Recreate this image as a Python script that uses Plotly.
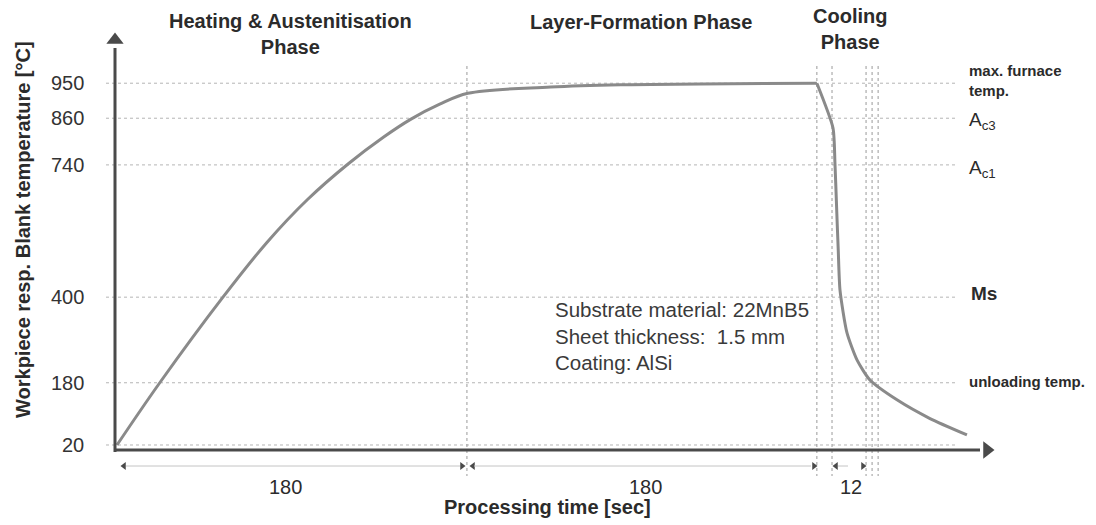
import plotly.graph_objects as go

# ---------------- data ----------------
heat_time_s = [0, 22, 54.5, 77, 98, 119, 137, 151, 166, 180.5, 223, 259, 300, 360]
heat_temp_c = [20, 180, 400, 540, 651, 743, 811, 857, 896, 924, 940, 946, 948, 950]
cool_time_s = [360, 368.3, 369.3, 370.2, 371.0, 371.9, 375.5, 380.7, 387.3, 401.2, 418.2, 437.2]
cool_temp_c = [950, 835, 745, 624, 521, 418, 308, 238, 187, 136, 88, 46]

ref_temps = [950, 860, 740, 400, 180, 20]
ref_labels = ["950", "860", "740", "400", "180", "20"]

phase_bounds = [0, 180, 360]          # s
cooling_marks = [367.8, 385.3, 388.4, 391.5]
phase_durations = ["180", "180", "12"]
phase_titles = ["<b>Heating & Austenitisation<br>Phase</b>", "<b>Layer-Formation Phase</b>",
                "<b>Cooling<br>Phase</b>"]

# ---------------- geometry ----------------
W, H = 1096, 525
L, R, T, B = 100, 96, 20, 45
XR = [-8.745, 454.2]
YR = [-70, 1112.5]
pw, ph = W - L - R, H - T - B


def t_of(px):
    return XR[0] + (px - L) / pw * (XR[1] - XR[0])


def v_of(py):
    return YR[1] - (py - T) / ph * (YR[1] - YR[0])


def xp(px):
    return (px - L) / pw


def yp(py):
    return (H - B - py) / ph


CURVE = "#8a8a8a"
AX = "#4a4a4a"
GRID = "#b5b5b5"
TXT = "#2b2b2b"
FONT = "Liberation Sans, Arial, sans-serif"

fig = go.Figure()

# curve
fig.add_trace(go.Scatter(x=heat_time_s, y=heat_temp_c, mode="lines",
                         line=dict(color=CURVE, width=3, shape="spline", smoothing=1.0),
                         cliponaxis=False, hoverinfo="skip", showlegend=False))
fig.add_trace(go.Scatter(x=cool_time_s, y=cool_temp_c, mode="lines",
                         line=dict(color=CURVE, width=3, shape="spline", smoothing=0.6),
                         cliponaxis=False, hoverinfo="skip", showlegend=False))

shapes = []
# horizontal reference lines
for v in ref_temps:
    shapes.append(dict(type="line", xref="x", yref="y", x0=t_of(106), x1=t_of(955), y0=v, y1=v,
                       line=dict(color=GRID, width=1, dash="dot"), layer="below"))
# vertical phase boundaries
for t in phase_bounds[1:] + cooling_marks:
    shapes.append(dict(type="line", xref="x", yref="y", x0=t, x1=t, y0=v_of(66), y1=v_of(476),
                       line=dict(color="#9a9a9a", width=1, dash="dot"), layer="below"))
# axes
x_axis_v = v_of(450)
y_axis_t = t_of(115)
shapes.append(dict(type="line", xref="x", yref="y", x0=y_axis_t, x1=y_axis_t,
                   y0=v_of(452), y1=v_of(48), line=dict(color=AX, width=3)))
shapes.append(dict(type="line", xref="x", yref="y", x0=y_axis_t, x1=t_of(980),
                   y0=x_axis_v, y1=x_axis_v, line=dict(color=AX, width=3)))
# dimension lines
dim_v = v_of(466)
for a, b in [(t_of(126), t_of(460)), (t_of(474), t_of(811)), (t_of(838), t_of(848))]:
    shapes.append(dict(type="line", xref="x", yref="y", x0=a, x1=b, y0=dim_v, y1=dim_v,
                       line=dict(color="#c4c4c4", width=1)))
fig.update_layout(shapes=shapes)

# arrowheads
fig.add_trace(go.Scatter(x=[y_axis_t], y=[v_of(40)], mode="markers",
                         marker=dict(symbol="triangle-up", size=15, color=AX),
                         cliponaxis=False, hoverinfo="skip", showlegend=False))
fig.add_trace(go.Scatter(x=[t_of(987)], y=[x_axis_v], mode="markers",
                         marker=dict(symbol="triangle-right", size=15, color=AX),
                         cliponaxis=False, hoverinfo="skip", showlegend=False))
fig.add_trace(go.Scatter(x=[t_of(124), t_of(836), t_of(473)], y=[dim_v] * 3, mode="markers",
                         marker=dict(symbol="triangle-left", size=7, color=AX),
                         cliponaxis=False, hoverinfo="skip", showlegend=False))
fig.add_trace(go.Scatter(x=[t_of(462), t_of(814), t_of(863)], y=[dim_v] * 3, mode="markers",
                         marker=dict(symbol="triangle-right", size=7, color=AX),
                         cliponaxis=False, hoverinfo="skip", showlegend=False))

ann = []


def text(px, py, s, size, xa="center", ya="middle", color=TXT, angle=0, align="center"):
    ann.append(dict(xref="paper", yref="paper", x=xp(px), y=yp(py), text=s, showarrow=False,
                    xanchor=xa, yanchor=ya, textangle=angle, align=align,
                    font=dict(family=FONT, size=size, color=color)))


# y tick labels
for v, lab in zip(ref_temps, ref_labels):
    py = T + (YR[1] - v) / (YR[1] - YR[0]) * ph
    text(86, py, lab, 20, xa="right", color="#333333")

# titles
text(290, 34, phase_titles[0], 20)
text(641, 22, phase_titles[1], 20)
text(850, 29, phase_titles[2], 20)
text(23, 230, "<b>Workpiece resp. Blank temperature [°C]</b>", 20, angle=-90)
text(547, 507, "<b>Processing time [sec]</b>", 20)

# durations
text(285, 487, phase_durations[0], 20)
text(645, 487, phase_durations[1], 20)
text(851, 487, phase_durations[2], 20)

# right labels
text(967, 80, "<b>max. furnace<br>temp.</b>", 15, xa="left", align="left")
text(967, 121, "A<sub>c3</sub>", 19, xa="left")
text(967, 169, "A<sub>c1</sub>", 19, xa="left")
text(969, 293, "<b>Ms</b>", 19, xa="left")
text(967, 381, "<b>unloading temp.</b>", 15, xa="left")

# info box
text(553, 336, "Substrate material: 22MnB5<br>Sheet thickness:  1.5 mm<br>Coating: AlSi",
     20.5, xa="left", align="left", color="#3a3a3a")

fig.update_layout(
    annotations=ann,
    width=W, height=H,
    margin=dict(l=L, r=R, t=T, b=B),
    paper_bgcolor="white", plot_bgcolor="white",
    xaxis=dict(range=XR, visible=False, fixedrange=True),
    yaxis=dict(range=YR, visible=False, fixedrange=True),
    showlegend=False,
)

fig.write_html("out.html")
